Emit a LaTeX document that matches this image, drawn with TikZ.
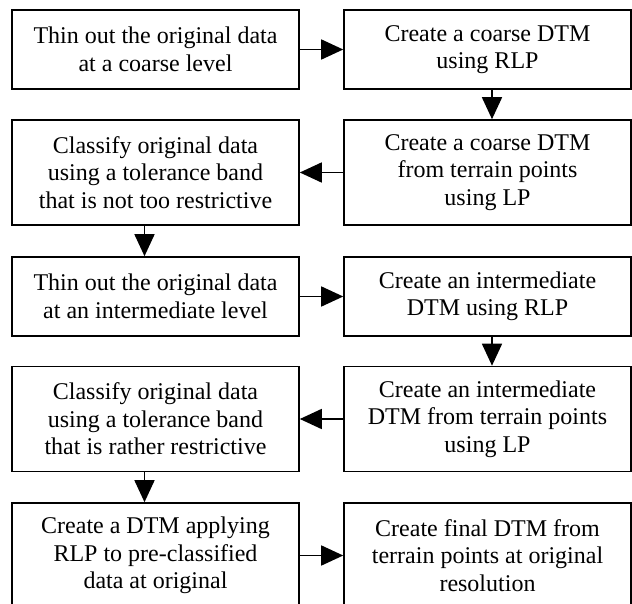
\documentclass[tikz,border=0pt]{standalone}
\usepackage{fontspec}
\setmainfont{Liberation Serif}
\usetikzlibrary{arrows.meta}
\begin{document}
\begin{tikzpicture}[x=1pt,y=1pt,
  stepbox/.style={draw=black, line width=1.6pt, minimum width=287pt, inner sep=0pt,
    align=center, font=\fontsize{24}{27.5}\selectfont},
  short/.style={stepbox, minimum height=79pt},
  tall/.style={stepbox, minimum height=105pt},
  arr/.style={line width=1.6pt, -{Triangle[length=22pt,width=20pt]}}]
\clip (0,0) rectangle (632,-604);
\fill[white] (0,0) rectangle (632,-604);
% left column centred at x=155.5, right column at x=487.5
\node[short] (l1) at (155.5,-49.5) {Thin out the original data\\at a coarse level};
\node[short] (r1) at (487.5,-49.5) {Create a coarse DTM\\using RLP};
\node[tall]  (l2) at (155.5,-172.5) {Classify original data\\using a tolerance band\\that is not too restrictive};
\node[tall]  (r2) at (487.5,-172.5) {Create a coarse DTM\\from terrain points\\using LP};
\node[short] (l3) at (155.5,-296.5) {Thin out the original data\\at an intermediate level};
\node[short] (r3) at (487.5,-296.5) {Create an intermediate\\DTM using RLP};
\node[tall]  (l4) at (155.5,-419) {Classify original data\\using a tolerance band\\that is rather restrictive};
\node[tall]  (r4) at (487.5,-419) {Create an intermediate\\DTM from terrain points\\using LP};
\node[tall]  (l5) at (155.5,-555.5) {Create a DTM applying\\RLP to pre-classified\\data at original};
\node[tall]  (r5) at (487.5,-555.5) {Create final DTM from\\terrain points at original\\resolution};
% flow
\draw[arr] (l1) -- (r1);
\draw[arr] ([xshift=4.5pt]r1.south) -- ([xshift=4.5pt]r2.north);
\draw[arr] (r2) -- (l2);
\draw[arr] ([xshift=-11pt]l2.south) -- ([xshift=-11pt]l3.north);
\draw[arr] (l3) -- (r3);
\draw[arr] ([xshift=4.5pt]r3.south) -- ([xshift=4.5pt]r4.north);
\draw[arr] (r4) -- (l4);
\draw[arr] ([xshift=-11pt]l4.south) -- ([xshift=-11pt]l5.north);
\draw[arr] (l5) -- (r5);
\end{tikzpicture}
\end{document}
